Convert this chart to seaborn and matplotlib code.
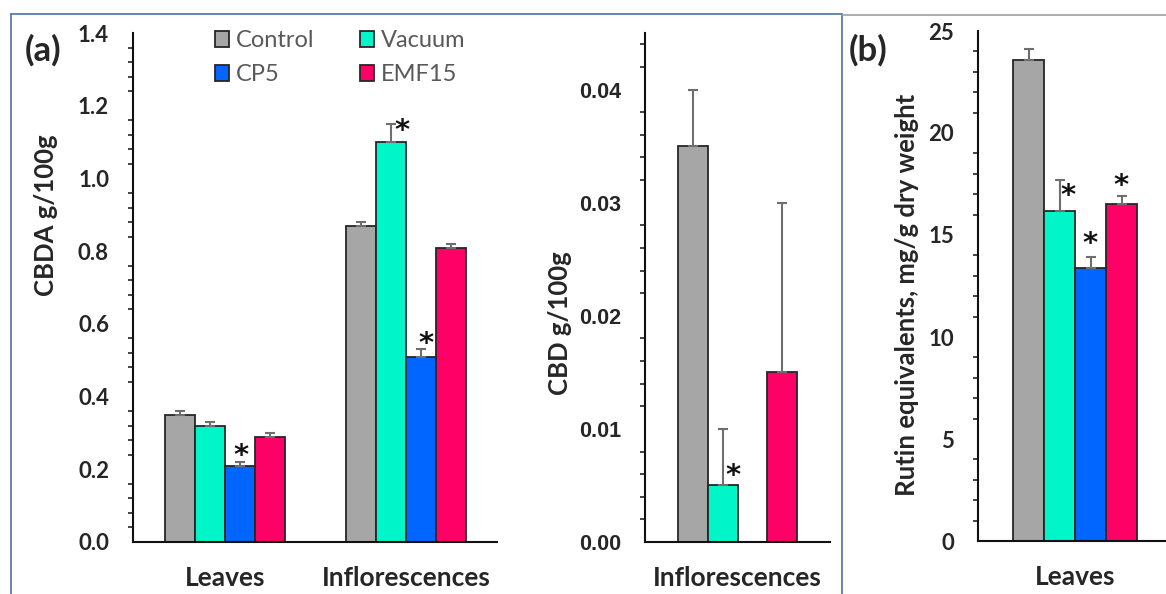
import numpy as np
import pandas as pd
import matplotlib
matplotlib.use("Agg")
import matplotlib.pyplot as plt
import seaborn as sns
from matplotlib.ticker import MultipleLocator
from matplotlib.lines import Line2D

# ---------------- data ----------------
treatments = ["Control", "Vacuum", "CP5", "EMF15"]
colors = ["#A6A6A6", "#00F5C8", "#0066FF", "#FF0066"]

cbda_tissues = ["Leaves", "Inflorescences"]
cbda_leaves = [0.35, 0.32, 0.21, 0.29]
cbda_leaves_err = [0.01, 0.01, 0.01, 0.01]
cbda_infl = [0.87, 1.10, 0.51, 0.81]
cbda_infl_err = [0.01, 0.05, 0.02, 0.01]

cbd_tissues = ["Inflorescences"]
cbd_infl = [0.035, 0.005, np.nan, 0.015]
cbd_infl_err = [0.005, 0.005, np.nan, 0.015]

rutin_tissues = ["Leaves"]
rutin_leaves = [23.6, 16.2, 13.4, 16.5]
rutin_leaves_err = [0.5, 1.5, 0.5, 0.4]

cbda_sig = [("Leaves", "CP5"), ("Inflorescences", "Vacuum"), ("Inflorescences", "CP5")]
cbd_sig = [("Inflorescences", "Vacuum")]
rutin_sig = [("Leaves", "Vacuum"), ("Leaves", "CP5"), ("Leaves", "EMF15")]

# ---------------- style ----------------
sns.set_style("white")
plt.rcParams["font.family"] = ["Lato", "DejaVu Sans"]

W, H = 1166, 594
fig = plt.figure(figsize=(W / 100, H / 100), dpi=100)

def fx(px):
    return px / W

def fy(py):
    return 1 - py / H

EDGE = "#262626"
ERRC = "#6E6E6E"


def panel(ax, tissues, vals, errs, width, sig, star_off, legend=False):
    rows = []
    errmap = {}
    for t, v, e in zip(tissues, vals, errs):
        for tr, vv, ee in zip(treatments, v, e):
            errmap[(t, tr)] = ee
            if not np.isnan(vv):
                rows.append({"tissue": t, "treatment": tr, "value": vv})
    df = pd.DataFrame(rows)
    sns.barplot(data=df, x="tissue", y="value", hue="treatment",
                order=tissues, hue_order=treatments, palette=colors,
                width=width, gap=0, saturation=1, edgecolor=EDGE,
                linewidth=1.3, errorbar=None, ax=ax, legend=legend)
    n = len(treatments)
    bw = width / n
    caps = {}
    for p in ax.patches:
        h = p.get_height()
        if h is None or np.isnan(h) or h == 0:
            continue
        xc = p.get_x() + p.get_width() / 2
        ci = int(round(xc))
        hi = int(round((xc - ci + width / 2 - bw / 2) / bw))
        key = (tissues[ci], treatments[hi])
        e = errmap[key]
        ax.errorbar([xc], [h], yerr=[[0], [e]], fmt="none", ecolor=ERRC,
                    elinewidth=1.5, capsize=3.5, capthick=1.5, zorder=3)
        caps[key] = (xc, h + e)
    for key, (dx, dy) in zip(sig, star_off):
        xc, top = caps[key]
        ax.annotate("*", xy=(xc, top), xytext=(dx, dy - 9),
                    textcoords="offset pixels", ha="center", va="center",
                    fontsize=21, fontweight="bold", color="#111111",
                    family=["DejaVu Sans"])
    for s in ["top", "right"]:
        ax.spines[s].set_visible(False)
    for s in ["left", "bottom"]:
        ax.spines[s].set_linewidth(1.5)
        ax.spines[s].set_color("#111111")
    ax.set_xlabel("")
    ax.set_ylabel("")
    ax.tick_params(axis="x", length=0, pad=17, labelsize=19)
    for lab in ax.get_xticklabels():
        lab.set_fontweight("bold")
    ax.tick_params(axis="y", which="major", direction="inout", length=11.5,
                   width=1.3, pad=11.5, labelsize=16, color="#111111")
    ax.tick_params(axis="y", which="minor", direction="out", length=3.8,
                   width=1.1, left=True, color="#111111")
    ax.set_facecolor("white")


# Panel (a) left: CBDA
ax1 = fig.add_axes([fx(133), fy(542), fx(497 - 133), (542 - 33) / H])
panel(ax1, cbda_tissues, [cbda_leaves, cbda_infl], [cbda_leaves_err, cbda_infl_err],
      0.663, cbda_sig, [(1, 15), (11, 2), (5, 14)], legend=True)
ax1.set_xlim(-0.508, 1.503)
ax1.set_ylim(0, 1.4)
ax1.yaxis.set_major_locator(MultipleLocator(0.2))
ax1.yaxis.set_minor_locator(MultipleLocator(0.04))
ax1.yaxis.set_major_formatter(matplotlib.ticker.FormatStrFormatter("%.1f"))
for lab in ax1.get_yticklabels():
    lab.set_fontweight("bold")

handles, labels = ax1.get_legend_handles_labels()
ax1.get_legend().remove()
order = [0, 2, 1, 3]
for hd in handles:
    hd.set_edgecolor(EDGE)
    hd.set_linewidth(1.3)
fig.legend([handles[i] for i in order], [labels[i] for i in order], ncol=2,
           loc="upper left", bbox_to_anchor=(fx(215), fy(30)), frameon=False,
           fontsize=17, handlelength=0.6, handleheight=0.65, handletextpad=0.3,
           columnspacing=1.9, labelspacing=0.55, borderpad=0, borderaxespad=0,
           labelcolor="#595959")

# Panel (a) right: CBD
ax2 = fig.add_axes([fx(645), fy(542), fx(830 - 645), (542 - 33) / H])
panel(ax2, cbd_tissues, [cbd_infl], [cbd_infl_err], 0.8, cbd_sig, [(10, -38)])
ax2.set_xlim(-0.622, 0.622)
ax2.set_ylim(0, 0.045)
ax2.yaxis.set_major_locator(MultipleLocator(0.01))
ax2.yaxis.set_minor_locator(MultipleLocator(0.002))
ax2.yaxis.set_major_formatter(matplotlib.ticker.FormatStrFormatter("%.2f"))
for lab in ax2.get_yticklabels():
    lab.set_fontweight("bold")
    lab.set_family(["Liberation Sans", "DejaVu Sans"])
    lab.set_fontsize(15.5)

# Panel (b): Rutin
ax3 = fig.add_axes([fx(978), fy(541), fx(1166 - 978), (541 - 31) / H])
panel(ax3, rutin_tissues, [rutin_leaves], [rutin_leaves_err], 0.8, rutin_sig,
      [(8, -7), (-1, 22), (-1, 19)])
ax3.set_xlim(-0.626, 0.587)
ax3.set_ylim(0, 25)
ax3.yaxis.set_major_locator(MultipleLocator(5))
ax3.yaxis.set_minor_locator(MultipleLocator(1))
for lab in ax3.get_yticklabels():
    lab.set_fontweight("bold")

# axis titles
fig.text(fx(46), fy(215), "CBDA g/100g", rotation=90, ha="center", va="center",
         fontsize=18.5, fontweight="bold")
fig.text(fx(560), fy(323), "CBD g/100g", rotation=90, ha="center", va="center",
         fontsize=18.5, fontweight="bold")
fig.text(fx(907), fy(295), "Rutin equivalents, mg/g dry weight", rotation=90,
         ha="center", va="center", fontsize=18.5, fontweight="bold")

# panel letters
fig.text(fx(43), fy(50), "(a)", ha="center", va="center", fontsize=25, fontweight="bold")
fig.text(fx(868), fy(50), "(b)", ha="center", va="center", fontsize=25, fontweight="bold")

# frames
fc = "#4F6FA3"
fig.add_artist(Line2D([fx(11), fx(842)], [fy(14), fy(14)], color=fc, lw=1.2, transform=fig.transFigure))
fig.add_artist(Line2D([fx(11), fx(11)], [fy(14), 0], color=fc, lw=1.2, transform=fig.transFigure))
fig.add_artist(Line2D([fx(842), fx(842)], [fy(14), 0], color=fc, lw=1.2, transform=fig.transFigure))
fig.add_artist(Line2D([fx(842), 1], [fy(15), fy(15)], color="#A0A0A0", lw=1.2, transform=fig.transFigure))

fig.savefig("out.png", dpi=100, facecolor="white")
